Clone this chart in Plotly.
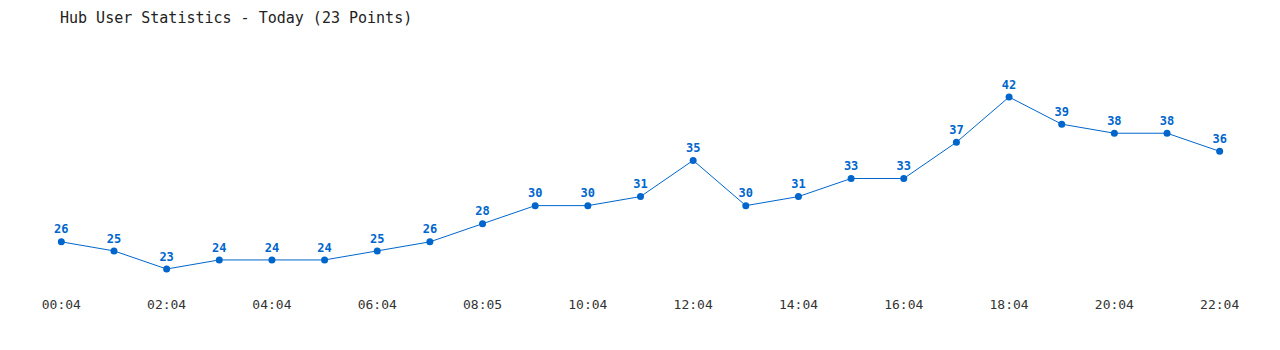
import plotly.graph_objects as go

times = ["00:04", "01:04", "02:04", "03:04", "04:04", "05:04", "06:04", "07:04",
         "08:05", "09:04", "10:04", "11:04", "12:04", "13:04", "14:04", "15:04",
         "16:04", "17:04", "18:04", "19:04", "20:04", "21:04", "22:04"]
users = [26, 25, 23, 24, 24, 24, 25, 26, 28, 30, 30, 31, 35, 30, 31, 33, 33, 37, 42, 39, 38, 38, 36]
tick_labels = times[::2]

color = "#0066cc"
fig = go.Figure(go.Scatter(
    x=list(range(len(times))), y=users, mode="lines+markers+text",
    text=[str(v) for v in users], textposition="top center",
    textfont=dict(family="DejaVu Sans Mono", size=12, color=color, weight="bold"),
    line=dict(color=color, width=1),
    marker=dict(color=color, size=7),
    hovertext=times,
))

fig.update_layout(
    width=1280, height=350,
    margin=dict(l=35, r=34, t=40, b=60),
    paper_bgcolor="white", plot_bgcolor="white",
    showlegend=False,
    title=dict(text="Hub User Statistics - Today (23 Points)",
               x=60/1280, xanchor="left", xref="container",
               y=1-18/350, yanchor="middle", yref="container",
               font=dict(family="DejaVu Sans Mono", size=15, color="#222222")),
    xaxis=dict(range=[-0.5, 22.5], tickmode="array",
               tickvals=list(range(0, len(times), 2)), ticktext=tick_labels,
               showgrid=False, zeroline=False, showline=False, ticks="",
               ticklabelstandoff=5,
               tickfont=dict(family="DejaVu Sans Mono", size=13, color="#333333")),
    yaxis=dict(range=[20.68, 48.3], showgrid=False, zeroline=False,
               showline=False, showticklabels=False, ticks=""),
)

fig.write_html("out.html")
